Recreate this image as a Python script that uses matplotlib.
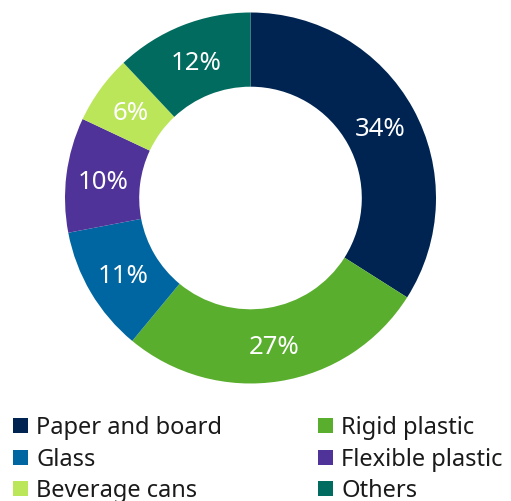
import matplotlib
matplotlib.use("Agg")
import matplotlib.pyplot as plt
from matplotlib.patches import Rectangle

categories = ["Paper and board", "Rigid plastic", "Glass", "Flexible plastic", "Beverage cans", "Others"]
values = [34, 27, 11, 10, 6, 12]
colors = ["#002452", "#5AAE2E", "#0066A1", "#4F3398", "#BBE65A", "#006B5E"]

plt.rcParams['font.family'] = ['Noto Sans', 'DejaVu Sans']

W, H = 511, 501
fig = plt.figure(figsize=(W / 100, H / 100), dpi=100)
cx, cy, R = 250.5, 198, 185.5
ax = fig.add_axes([(cx - R) / W, (H - cy - R) / H, 2 * R / W, 2 * R / H])
wedges, texts = ax.pie(values, colors=colors, startangle=90, counterclock=False,
                       radius=1, wedgeprops=dict(width=0.4, edgecolor='none'),
                       labels=[f"{v}%" for v in values], labeldistance=0.8)
for t in texts:
    t.set_color("white")
    t.set_fontsize(18.5)
    t.set_ha("center")
    t.set_va("center_baseline")
ax.set_xlim(-1, 1)
ax.set_ylim(-1, 1)
ax.set_aspect('auto')
ax.axis('off')

# manual legend: 2 columns, 3 rows
col_x = [13, 318]
row_y = [425, 457, 488]
sq = 15
for i, (name, c) in enumerate(zip(categories, colors)):
    r, k = divmod(i, 2)
    x0, yc = col_x[k], row_y[r]
    fig.patches.append(Rectangle((x0 / W, (H - yc - sq / 2) / H), sq / W, sq / H,
                                 transform=fig.transFigure, facecolor=c, edgecolor='none'))
    fig.text((x0 + 23) / W, (H - yc) / H, name, fontsize=17, va='center_baseline', ha='left',
             color='#1a1a1a')

fig.savefig("out.png", dpi=100)
